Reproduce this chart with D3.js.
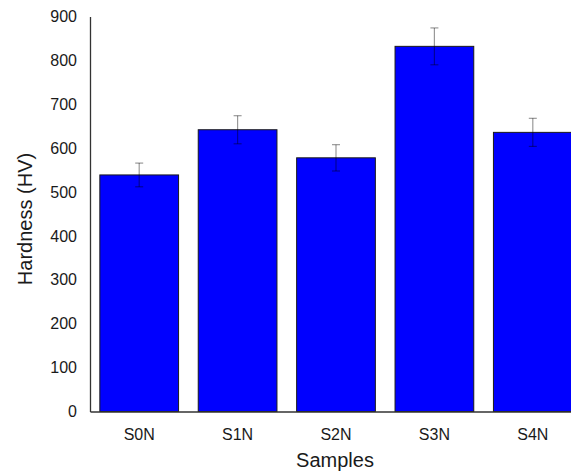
<!DOCTYPE html>
<html>
<head>
<meta charset="utf-8">
<script src="https://cdn.jsdelivr.net/npm/d3@7"></script>
<style>
  html, body { margin: 0; padding: 0; background: #fff; overflow: hidden; }
  svg { display: block; font-family: "Liberation Sans", Arial, sans-serif; }
</style>
</head>
<body>
<svg id="chart" width="571" height="474"></svg>
<script>
const categories = ["S0N", "S1N", "S2N", "S3N", "S4N"];
const hardness = [539, 642, 578, 832, 636];
const errors = [27, 32, 30, 42, 32];
const yTicks = [0, 100, 200, 300, 400, 500, 600, 700, 800, 900];

const svg = d3.select("#chart");
const plotLeft = 90, plotBottom = 411.5, plotTop = 16.5;
const step = 98.4;

const x = d3.scaleBand()
  .domain(categories)
  .range([plotLeft, plotLeft + step * categories.length])
  .paddingInner(0.2)
  .paddingOuter(0.1);

const y = d3.scaleLinear().domain([0, 900]).range([plotBottom, plotTop]);

const data = categories.map((c, i) => ({ c, v: hardness[i], e: errors[i] }));

// bars
svg.append("g").selectAll("rect").data(data).join("rect")
  .attr("x", d => x(d.c))
  .attr("y", d => y(d.v))
  .attr("width", x.bandwidth())
  .attr("height", d => plotBottom - y(d.v))
  .attr("fill", "#0000ff")
  .attr("stroke", "#1a1a1a")
  .attr("stroke-width", 1);

// error bars
const eg = svg.append("g").attr("stroke", "#000").attr("stroke-opacity", 0.4).attr("stroke-width", 1.2);
data.forEach(d => {
  const cx = x(d.c) + x.bandwidth() / 2;
  eg.append("line").attr("x1", cx).attr("x2", cx).attr("y1", y(d.v + d.e)).attr("y2", y(d.v - d.e));
  eg.append("line").attr("x1", cx - 4).attr("x2", cx + 4).attr("y1", y(d.v + d.e)).attr("y2", y(d.v + d.e));
  eg.append("line").attr("x1", cx - 4).attr("x2", cx + 4).attr("y1", y(d.v - d.e)).attr("y2", y(d.v - d.e));
});

// y axis
const yAxis = svg.append("g").attr("transform", `translate(${plotLeft},0)`)
  .call(d3.axisLeft(y).tickValues(yTicks).tickSize(0).tickPadding(13));
yAxis.select(".domain").attr("stroke", "#333").attr("stroke-width", 1.3);
yAxis.selectAll("text").attr("font-size", 16).attr("fill", "#1a1a1a")
  .attr("font-family", "Liberation Sans, Arial, sans-serif");

// x axis
const xAxis = svg.append("g").attr("transform", `translate(0,${plotBottom})`)
  .call(d3.axisBottom(x).tickSize(0).tickPadding(17));
xAxis.select(".domain").attr("stroke", "#333").attr("stroke-width", 1.3);
xAxis.selectAll("text").attr("font-size", 16).attr("fill", "#1a1a1a")
  .attr("font-family", "Liberation Sans, Arial, sans-serif");

// titles
svg.append("text")
  .attr("x", 335).attr("y", 467)
  .attr("text-anchor", "middle")
  .attr("font-size", 20).attr("fill", "#1a1a1a")
  .text("Samples");

svg.append("text")
  .attr("transform", `translate(32,219) rotate(-90)`)
  .attr("text-anchor", "middle")
  .attr("font-size", 20).attr("fill", "#1a1a1a")
  .text("Hardness (HV)");
</script>
</body>
</html>
